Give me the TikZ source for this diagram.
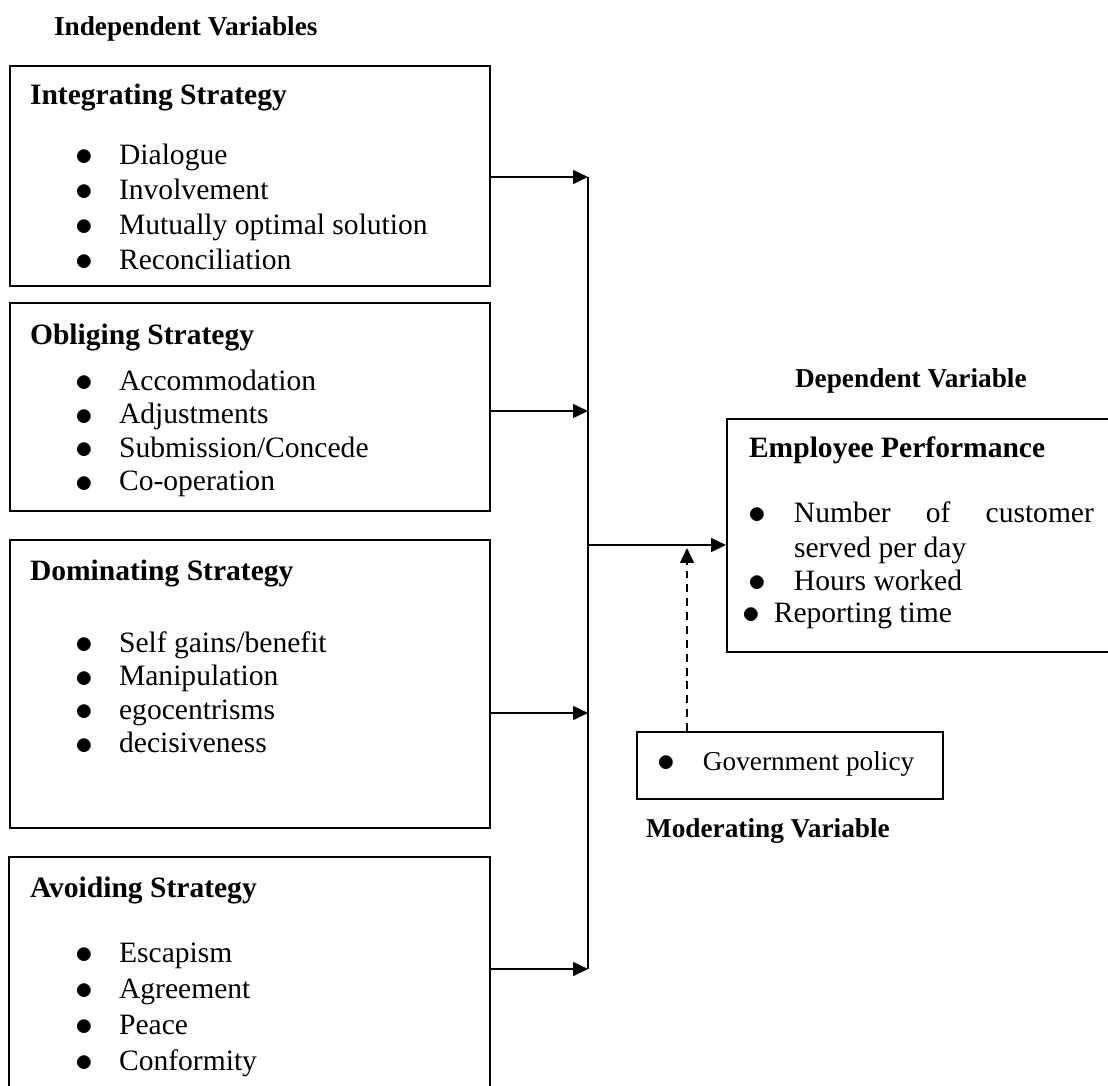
\documentclass[tikz,border=0pt]{standalone}
\usepackage{fontspec}
\setmainfont{Liberation Serif}
\usetikzlibrary{arrows.meta,fit}
\newcommand{\bul}[1][19.4pt]{\makebox[#1][l]{\raisebox{-0.7pt}{\scalebox{1.3}{$\bullet$}}}}

\begin{document}
\begin{tikzpicture}[x=0.44pt,y=-0.44pt,line width=0.9pt,
    box/.style={draw,inner sep=0pt},
    label/.style={anchor=base west,inner sep=0pt,font=\fontsize{12}{14}\selectfont\bfseries},
    head/.style={anchor=base west,inner sep=0pt,font=\fontsize{13}{15}\selectfont\bfseries},
    item/.style={anchor=base west,inner sep=0pt,font=\fontsize{13}{15}\selectfont},
    arr/.style={-{Triangle[length=6.5pt,width=6pt]}}]
                \useasboundingbox (0,0) rectangle (1108,1085);
                \node[label] (indep) at (53,35) {Independent Variables};
                \node[box,fit={(10,66) (490,286)}] (integ) {};
                \node[box,fit={(10,303) (490,511)}] (oblig) {};
                \node[box,fit={(10,540) (490,828)}] (domin) {};
                \node[box,fit={(9,857) (490,1110)}] (avoid) {};
                \node[head] (integh) at (29,104) {Integrating Strategy};
                \node[head] (obligh) at (29,344) {Obliging Strategy};
                \node[head] (dominh) at (29,580) {Dominating Strategy};
                \node[head] (avoidh) at (29,897) {Avoiding Strategy};
                \foreach \t [count=\k] in {Dialogue,Involvement,Mutually optimal solution,Reconciliation}{
                    \node[item] (integ-\k) at (74,{164+35*(\k-1)}) {\bul\t};
                }
                \foreach \t [count=\k] in {Accommodation,Adjustments,Submission/Concede,Co-operation}{
                    \node[item] (oblig-\k) at (74,{390+33.5*(\k-1)}) {\bul\t};
                }
                \foreach \t [count=\k] in {Self gains/benefit,Manipulation,egocentrisms,decisiveness}{
                    \node[item] (domin-\k) at (74,{652+33.5*(\k-1)}) {\bul\t};
                }
                \foreach \t [count=\k] in {Escapism,Agreement,Peace,Conformity}{
                    \node[item] (avoid-\k) at (74,{962+36*(\k-1)}) {\bul\t};
                }
                \node[label] (dep) at (794,387) {Dependent Variable};
                \node[box,fit={(727,419) (1120,652)}] (perf) {};
                \node[head] (perfh) at (748,457) {Employee Performance};
                \node[item] (perf-1) at (747,522) {\bul[20.2pt]\makebox[132pt][s]{Number of customer}};
                \node[item] (perf-1b) at (793,557) {served per day};
                \node[item] (perf-2) at (747,590) {\bul[20.2pt]Hours worked};
                \node[item] (perf-3) at (741,622) {\bul[14pt]Reporting time};
                \node[box,fit={(637,732) (943,799)}] (gov) {};
                \node[anchor=base west,inner sep=0pt,font=\fontsize{12}{14}\selectfont] (govt) at (656,770) {\bul[20.2pt]Government policy};
                \node[label] (mod) at (645,837) {Moderating Variable};
                \coordinate (bus1) at (588,177);
                \coordinate (bus2) at (588,411);
                \coordinate (bus3) at (588,713);
                \coordinate (bus4) at (588,969);
                \coordinate (join) at (588,545);
                \coordinate (modtip) at (687,548);
                \draw (bus1) -- (bus4);
                \foreach \b/\n in {integ/1,oblig/2,domin/3,avoid/4}{
                    \draw[arr] (bus\n -| \b.east) -- (bus\n);
                }
                \draw[arr] (join) -- (join -| perf.west);
                \draw[arr,dash pattern=on 3.5pt off 2.6pt] (gov.north -| modtip) -- (modtip);
\end{tikzpicture}
\end{document}
